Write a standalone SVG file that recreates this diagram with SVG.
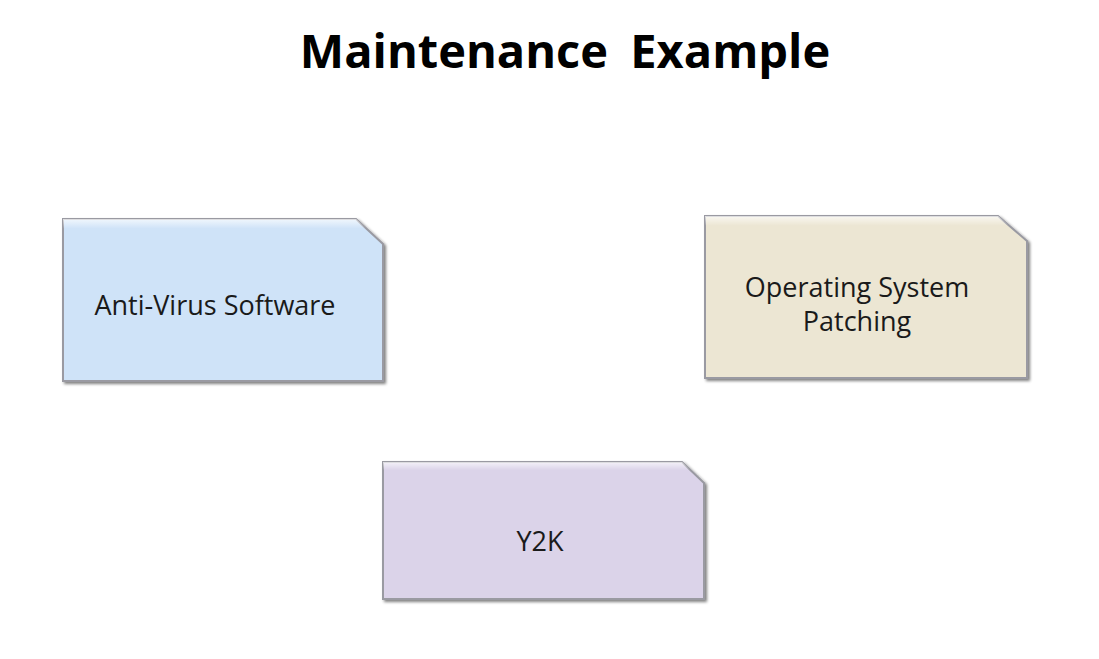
<svg xmlns="http://www.w3.org/2000/svg" width="1099" height="659" viewBox="0 0 1099 659">
<defs>
<filter id="sh" x="-5%" y="-5%" width="112%" height="115%">
<feGaussianBlur in="SourceAlpha" stdDeviation="1.5"/>
<feOffset dx="2" dy="2" result="b"/>
<feComponentTransfer><feFuncA type="linear" slope="0.5"/></feComponentTransfer>
<feMerge><feMergeNode/><feMergeNode in="SourceGraphic"/></feMerge>
</filter>
<linearGradient id="hl" x1="0" y1="0" x2="0" y2="1">
<stop offset="0" stop-color="#ffffff" stop-opacity="0.7"/>
<stop offset="0.06" stop-color="#ffffff" stop-opacity="0"/>
</linearGradient>
</defs>
<style>
.box{stroke:#9a9aa2;stroke-width:2;filter:url(#sh)}
.lbl{font-family:"Open Sans","Liberation Sans",sans-serif;font-size:27px;fill:#1a1a1a;text-anchor:middle}
.ttl{font-family:"Open Sans","Liberation Sans",sans-serif;font-size:47px;font-weight:bold;fill:#000;text-anchor:middle}
</style>
<rect width="1099" height="659" fill="#ffffff"/>
<text class="ttl" x="565" y="68" word-spacing="10">Maintenance Example</text>
<g id="connectors"/>
<g id="antivirus">
<path class="box" d="M63,219 H356 L383,244 V381 H63 Z" fill="#cfe3f8"/>
<path d="M63,219 H356 L383,244 V381 H63 Z" fill="url(#hl)"/>
<text class="lbl" x="215" y="315">Anti-Virus Software</text>
</g>
<g id="ospatching">
<path class="box" d="M705,216 H998 L1027,241 V378 H705 Z" fill="#ece6d3"/>
<path d="M705,216 H998 L1027,241 V378 H705 Z" fill="url(#hl)"/>
<text class="lbl" x="857" y="297">Operating System</text>
<text class="lbl" x="857" y="331">Patching</text>
</g>
<g id="y2k">
<path class="box" d="M383,462 H682 L704,483 V599 H383 Z" fill="#dbd3e9"/>
<path d="M383,462 H682 L704,483 V599 H383 Z" fill="url(#hl)"/>
<text class="lbl" x="540" y="551">Y2K</text>
</g>
</svg>
